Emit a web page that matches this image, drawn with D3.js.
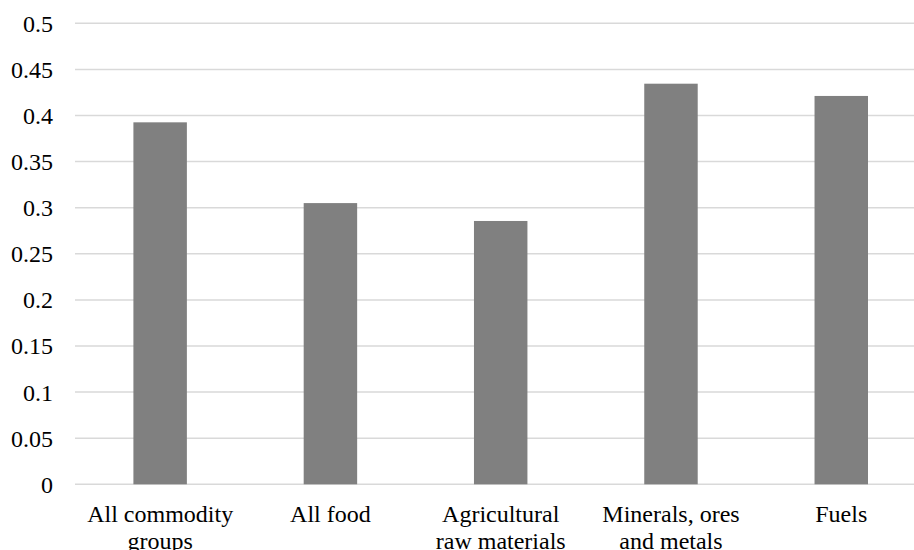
<!DOCTYPE html>
<html>
<head>
<meta charset="utf-8">
<script src="https://cdn.jsdelivr.net/npm/d3@7"></script>
<style>
  html, body { margin: 0; padding: 0; background: #fff; }
  svg { display: block; }
</style>
</head>
<body>
<svg id="chart" width="914" height="550"></svg>
<script>
// Commodity groups (line breaks mark where each label wraps)
const categories = [
  "All commodity\ngroups",
  "All food",
  "Agricultural\nraw materials",
  "Minerals, ores\nand metals",
  "Fuels"
];
const values = [0.3926, 0.305, 0.2856, 0.4345, 0.4212];
const yTicks = [0, 0.05, 0.1, 0.15, 0.2, 0.25, 0.3, 0.35, 0.4, 0.45, 0.5];
const yTickLabels = ["0", "0.05", "0.1", "0.15", "0.2", "0.25", "0.3", "0.35", "0.4", "0.45", "0.5"];

(function drawChart() {
  const svg = d3.select("#chart");
  const W = 914;
  const plotLeft = 75, plotRight = 926.4, plotTop = 23.3, plotBottom = 484.3;
  const font = '"Liberation Serif"';
  const fontSize = 24;

  const x = d3.scaleBand()
    .domain(categories)
    .range([plotLeft, plotRight])
    .paddingInner(0.686)
    .paddingOuter(0.343);

  const y = d3.scaleLinear()
    .domain([0, 0.5])
    .range([plotBottom, plotTop]);

  // Horizontal gridlines
  svg.append("g")
    .selectAll("line")
    .data(yTicks)
    .join("line")
    .attr("x1", plotLeft)
    .attr("x2", W)
    .attr("y1", d => y(d))
    .attr("y2", d => y(d))
    .attr("stroke", "#d9d9d9")
    .attr("stroke-width", 1.5);

  // Y axis labels
  const yAxis = d3.axisLeft(y)
    .tickValues(yTicks)
    .tickFormat((d, i) => yTickLabels[i])
    .tickSize(0)
    .tickPadding(0);

  const yg = svg.append("g")
    .attr("transform", "translate(53,0)")
    .call(yAxis)
    .attr("font-family", "Liberation Serif")
    .attr("font-size", fontSize);
  yg.select(".domain").remove();
  yg.selectAll("text")
    .style("font-family", font)
    .style("font-size", fontSize + "px")
    .attr("fill", "#000")
    .attr("dy", "0.33em");

  // Bars
  svg.append("g")
    .selectAll("rect")
    .data(values)
    .join("rect")
    .attr("x", (d, i) => x(categories[i]))
    .attr("width", x.bandwidth())
    .attr("y", d => y(d))
    .attr("height", d => y(0) - y(d))
    .attr("fill", "#808080");

  // X axis category labels, wrapped onto two lines where needed
  const xAxis = d3.axisBottom(x).tickSize(0).tickFormat("");
  const xg = svg.append("g")
    .attr("transform", `translate(0,${plotBottom})`)
    .call(xAxis)
    .attr("font-family", "Liberation Serif")
    .attr("font-size", fontSize);
  xg.select(".domain").remove();
  xg.selectAll(".tick text").remove();

  xg.selectAll(".tick").each(function(d) {
    const t = d3.select(this).append("text")
      .style("font-family", font)
      .style("font-size", fontSize + "px")
      .attr("fill", "#000")
      .attr("text-anchor", "middle")
      .attr("y", 37.5);
    d.split("\n").forEach((line, j) => {
      t.append("tspan")
        .attr("x", 0)
        .attr("dy", j === 0 ? 0 : 27)
        .text(line);
    });
  });
})();
</script>
</body>
</html>
